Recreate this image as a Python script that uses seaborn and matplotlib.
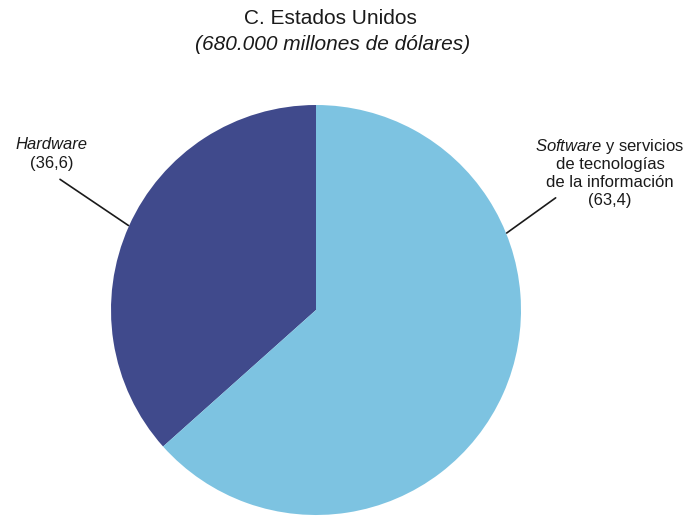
import numpy as np
import matplotlib
matplotlib.use('Agg')
import matplotlib.pyplot as plt
import seaborn as sns

# Datos: participación (%) en el gasto de tecnologías de la información
categorias = ['Hardware', 'Software y servicios de tecnologías de la información']
valores = [36.6, 63.4]
colores = ['#404a8c', '#7dc3e1']
titulo = 'C. Estados Unidos'
subtitulo = '(680.000 millones de dólares)'

sns.set_theme(style='white')
plt.rcParams['font.family'] = ['Liberation Sans', 'DejaVu Sans']
plt.rcParams['mathtext.fontset'] = 'custom'
plt.rcParams['mathtext.it'] = 'Liberation Sans:italic'
plt.rcParams['mathtext.rm'] = 'Liberation Sans'

fig = plt.figure(figsize=(6.85, 5.16), dpi=100)
ax = fig.add_axes([111 / 685, 1 / 516, 410 / 685, 410 / 516])

wedges, _ = ax.pie(valores, colors=colores, startangle=90, counterclock=True,
                   radius=1, wedgeprops=dict(linewidth=0))
ax.set_xlim(-1, 1)
ax.set_ylim(-1, 1)
ax.set_aspect('equal')
ax.axis('off')

# Ángulos donde tocan las líneas guía
ang_hw = np.deg2rad((wedges[0].theta1 + wedges[0].theta2) / 2)
ang_sw = np.deg2rad(21.8)

def fmt(v):
    return '(' + f'{v:.1f}'.replace('.', ',') + ')'

txt = '#1a1a1a'
ax.annotate('', xy=(np.cos(ang_hw) * 0.99, np.sin(ang_hw) * 0.99), xytext=(-1.26, 0.645),
            arrowprops=dict(arrowstyle='-', color=txt, lw=1.2), annotation_clip=False)
ax.text(-1.29, 0.805, 'Hardware', style='italic', fontsize=12, ha='center', va='center',
        color=txt)
ax.text(-1.29, 0.717, fmt(valores[0]), fontsize=12, ha='center', va='center', color=txt)

ax.annotate('', xy=(np.cos(ang_sw) * 0.99, np.sin(ang_sw) * 0.99), xytext=(1.18, 0.555),
            arrowprops=dict(arrowstyle='-', color=txt, lw=1.2), annotation_clip=False)
sw_lineas = ['$\\mathit{Software}$ y servicios', 'de tecnologías', 'de la información',
             fmt(valores[1])]
for i, linea in enumerate(sw_lineas):
    ax.text(1.434, 0.8 - i * 0.088, linea, fontsize=12, ha='center', va='center', color=txt)

fig.text(330 / 685, 1 - 18 / 516, titulo, fontsize=15, ha='center', va='center', color=txt)
fig.text(333 / 685, 1 - 45 / 516, subtitulo, fontsize=15, style='italic', ha='center',
         va='center', color=txt)

fig.savefig('out.png', dpi=100)
